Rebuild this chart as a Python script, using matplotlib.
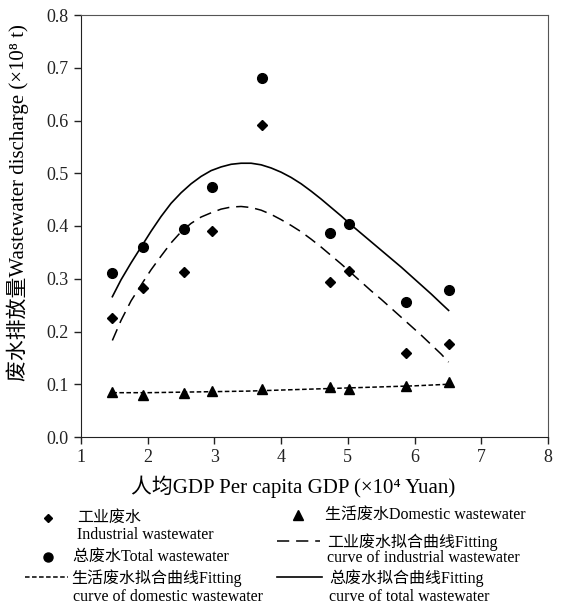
import matplotlib
matplotlib.use("Agg")
import matplotlib.pyplot as plt
from matplotlib.lines import Line2D

# Serif text with a CJK fallback for the Chinese labels.
fontList = ["Liberation Serif", "Noto Sans CJK SC", "DejaVu Sans"]
plt.rcParams["font.family"] = fontList

# Observed points, per capita GDP (x10^4 Yuan) against discharge (x10^8 t).
gdpValues = [1.47, 1.93, 2.54, 2.96, 3.72, 4.73, 5.02, 5.87, 6.51]
industrialValues = [0.225, 0.283, 0.312, 0.390, 0.591, 0.294, 0.314, 0.159, 0.176]
totalValues = [0.310, 0.360, 0.394, 0.474, 0.680, 0.387, 0.404, 0.255, 0.279]
domesticValues = [0.086, 0.080, 0.084, 0.088, 0.091, 0.094, 0.091, 0.097, 0.105]

# Fitted curves at these GDP values.
fitGdp = [1.47, 1.6, 1.75, 1.9, 2.05, 2.2, 2.35, 2.5, 2.65, 2.8, 2.95, 3.1, 3.25, 3.4, 3.55, 3.7, 3.85,
          4.0, 4.15, 4.3, 4.45, 4.6, 4.75, 4.9, 5.05, 5.2, 5.35, 5.5, 5.65, 5.8, 5.95, 6.1, 6.25, 6.4, 6.51]
totalFit = [0.266, 0.298, 0.330, 0.360, 0.390, 0.418, 0.443, 0.463, 0.480, 0.494, 0.505, 0.512, 0.517,
            0.519, 0.519, 0.516, 0.510, 0.502, 0.492, 0.480, 0.466, 0.451, 0.435, 0.419, 0.402, 0.386,
            0.370, 0.354, 0.338, 0.322, 0.305, 0.288, 0.271, 0.253, 0.240]
industrialFit = [0.183, 0.221, 0.258, 0.288, 0.317, 0.343, 0.368, 0.389, 0.405, 0.417, 0.425, 0.432, 0.436,
                 0.437, 0.435, 0.430, 0.422, 0.412, 0.401, 0.389, 0.375, 0.360, 0.344, 0.328, 0.311, 0.294,
                 0.277, 0.261, 0.244, 0.227, 0.210, 0.193, 0.175, 0.157, 0.142]
domesticFitGdp = [1.47, 2.0, 2.5, 3.0, 3.5, 4.0, 4.5, 5.0, 5.5, 6.0, 6.51]
domesticFit = [0.084, 0.084, 0.085, 0.086, 0.087, 0.089, 0.091, 0.093, 0.095, 0.097, 0.100]

xTicks = [1, 2, 3, 4, 5, 6, 7, 8]
yTicks = [0.0, 0.1, 0.2, 0.3, 0.4, 0.5, 0.6, 0.7, 0.8]

figW, figH = 581, 608
fig = plt.figure(figsize=(figW / 100, figH / 100), dpi=100)
ax = fig.add_axes([81 / figW, 1 - 437 / figH, (548 - 81) / figW, (437 - 15) / figH])

# Fitted curves.
ax.plot(fitGdp, totalFit, color="black", linewidth=1.2, linestyle="-")
ax.plot(fitGdp, industrialFit, color="black", linewidth=1.1, linestyle=(0, (8, 4.5)))
ax.plot(domesticFitGdp, domesticFit, color="black", linewidth=1.1, linestyle=(0, (3, 1.6)))

# Observed points.
ax.plot(gdpValues, industrialValues, linestyle="none", marker="D", markersize=5.5, color="black")
ax.plot(gdpValues, totalValues, linestyle="none", marker="o", markersize=7, color="black")
ax.plot(gdpValues, domesticValues, linestyle="none", marker="^", markersize=7, color="black")

ax.set_xlim(1, 8)
ax.set_ylim(0, 0.8)
ax.set_xticks(xTicks)
ax.set_xticklabels([str(v) for v in xTicks])
ax.set_yticks(yTicks)
ax.set_yticklabels([f"{v:.1f}" for v in yTicks])
ax.tick_params(direction="out", length=5, width=1, labelsize=13, colors="#222222", pad=4)
for spineName in ["top", "right"]:
    ax.spines[spineName].set_color("#555555")
for spineName in ["left", "bottom"]:
    ax.spines[spineName].set_color("#222222")

fig.text(18 / figW, 1 - 203 / figH, "废水排放量Wastewater discharge (×10⁸ t)", rotation=90,
         ha="center", va="center", fontsize=15, family=fontList)
fig.text(293 / figW, 1 - 487 / figH, "人均GDP Per capita GDP (×10⁴ Yuan)",
         ha="center", va="center", fontsize=15, family=fontList)


# Legend drawn by hand so each handle sits on the first line of its label.
def FigY(pixelY):
    return 1 - pixelY / figH


def AddMarker(px, py, markerName, markerSize):
    fig.add_artist(Line2D([px / figW], [FigY(py)], marker=markerName, markersize=markerSize,
                          color="black", linestyle="none"))


def AddLine(x0, x1, py, styleName, widthValue):
    fig.add_artist(Line2D([x0 / figW, x1 / figW], [FigY(py), FigY(py)], color="black",
                          linestyle=styleName, linewidth=widthValue))


def AddText(px, py, textValue):
    fig.text(px / figW, FigY(py), textValue, ha="left", va="center", fontsize=11.5, family=fontList)


AddMarker(48, 518, "D", 4.5)
AddText(77, 518, "工业废水")
AddText(77, 535, "Industrial wastewater")
AddMarker(48, 557, "o", 6.5)
AddText(73, 557, "总废水Total wastewater")
AddLine(25, 68, 577, (0, (3, 1.6)), 1.1)
AddText(71, 578, "生活废水拟合曲线Fitting")
AddText(73, 597, "curve of domestic wastewater")

AddMarker(298, 515, "^", 6.5)
AddText(325, 515, "生活废水Domestic wastewater")
AddLine(277, 320, 541, (0, (8, 4.5)), 1.1)
AddText(327, 542, "工业废水拟合曲线Fitting")
AddText(327, 558, "curve of industrial wastewater")
AddLine(277, 322, 577, "-", 1.2)
AddText(329, 578, "总废水拟合曲线Fitting")
AddText(329, 597, "curve of total wastewater")

fig.savefig("out.png", dpi=100)
